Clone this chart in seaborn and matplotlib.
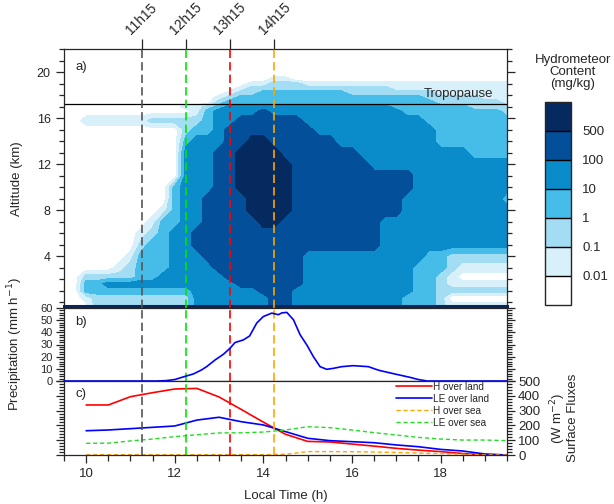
import numpy as np
import matplotlib
matplotlib.use("Agg")
import matplotlib.pyplot as plt
from matplotlib.ticker import MultipleLocator
import seaborn as sns

sns.set_style("ticks")
plt.rcParams['font.family'] = ['Liberation Sans', 'DejaVu Sans']

# --- data ---
event_times = [11.25, 12.25, 13.25, 14.25]
event_labels = ["11h15", "12h15", "13h15", "14h15"]
event_colors = ["#555555", "#00e600", "#ff0000", "#ffa500"]

tropopause_km = 17.28

# hydrometeor content class per grid cell (rows = altitudes, bottom to top; cols = times)
# 0: <0.01  1: 0.01-0.1  2: 0.1-1  3: 1-10  4: 10-100  5: 100-500  6: >500 mg/kg
hm_time = np.arange(9.5, 19.51, 0.25)
hm_alt = [-0.5, 0.4, 1.0, 1.6, 2.2, 3, 4, 5, 6, 7, 8, 9, 10, 11, 12, 13, 14, 15,
          15.8, 16.6, 17.0, 17.4, 17.8, 18.2, 18.6, 19.0, 19.4, 19.8, 20.5, 22]
hm_rows = [
    "000" "222222222" "4444444" "55" "4444444444" "333" "2" "111111",
    "00" "1" "222222222" "4444444" "55" "4444444444" "333" "2" "000000",
    "00" "3333333333" "444444" "555" "44444444444" "33" "2222222",
    "00" "33" "444444444444" "555555" "4444444444" "33" "2" "111111",
    "00" "22222" "33" "444444" "5555555" "4444444444" "33" "2" "1" "00000",
    "00000" "1" "2" "333" "4444" "55555555" "4444444444" "333" "2" "11111",
    "000000" "1" "333" "444" "555555555" "44444444444" "33" "222222",
    "0000000" "2" "33" "44" "55555555555555555" "444444444444",
    "0000000" "1" "2" "3" "44" "55555555555555555" "444444444444",
    "00000000" "1" "33" "44" "55555" "66" "555555555" "444444444444",
    "000000000" "1" "3" "44" "5555" "6666" "5555555555" "4444444444",
    "0000000000" "3" "44" "5555" "6666" "5555555555" "444444444" "3",
    "0000000000" "3" "444" "55" "66666" "55555555555" "444444444",
    "00000000000" "444" "55" "66666" "55555555555" "444444444",
    "00000000000" "444" "55" "66666" "5555555" "4444444444444",
    "00000000000" "444" "55" "6666" "5555555" "4444444444" "3333",
    "00000000000" "3" "444" "55" "66" "555555" "444444444" "3333333",
    "00000000000" "2" "33" "4" "55555555" "44444444444" "3333333",
    "00" "111111" "22222" "3" "44" "555555" "44444444444" "33333333",
    "000000000000" "1" "3" "4444" "5" "444444444444" "333333333" "2",
    "00000000000" "11" "2" "3" "444444444444444" "3333333" "2222",
    "00000000000000" "2" "3333333333333333333" "222222" "1",
    "00000000000000" "1" "2" "33333333333333333" "22222" "111",
    "000000000000000" "1" "22" "33333333" "22222222" "1111111",
    "0000000000000000" "1" "2222222222222" "11111111111",
    "00000000000000000" "11" "222" "1111111111111111111",
    "0000000000000000000" "11" "00000000000000000000",
    "0" * 41,
    "0" * 41,
    "0" * 41,
]
hm_bounds = ["0.01", "0.1", "1", "10", "100", "500"]
hm_colors = ["#ffffff", "#d8f0fa", "#a2ddf4", "#45bde8", "#0a8ccb", "#044f9a", "#052a60"]

precip_time = [9.5, 11.6, 11.8, 12.0, 12.25, 12.42, 12.6, 12.72, 12.91, 13.1, 13.25, 13.36,
               13.55, 13.69, 13.85, 14.0, 14.19, 14.34, 14.42, 14.53, 14.68, 14.83, 14.98,
               15.13, 15.28, 15.43, 15.58, 15.77, 16.03, 16.37, 16.55, 16.64, 16.94, 17.31,
               17.5, 17.7, 19.5]
precip_rate = [0, 0, 0.3, 1.2, 4.0, 5.8, 9.0, 11.8, 17.3, 22.0, 27.0, 31.6,
               33.8, 37.0, 47.6, 53.0, 55.8, 54.5, 56.0, 56.4, 50.3, 38.0, 29.7,
               20.0, 11.8, 9.6, 10.4, 11.8, 12.6, 11.8, 9.5, 8.5, 6.0, 3.0,
               1.2, 0, 0]

flux_time = [10.0, 10.5, 11.0, 11.5, 12.0, 12.5, 13.0, 13.5, 14.0, 14.5,
             15.0, 15.5, 16.0, 16.5, 17.0, 17.5, 18.0, 18.5, 19.0, 19.5]
h_land = [338, 338, 394, 421, 446, 450, 392, 308, 222, 140, 92, 88, 74, 60, 45, 33, 23, 10, 1, 0]
le_land = [164, 169, 178, 187, 196, 236, 255, 225, 203, 158, 113, 97, 90, 83, 68, 56, 38, 27, 7, 0]
h_sea = [2, 2, 2, 2, 2, 2, 2, 2, 2, 5, 23, 23, 22, 20, 17, 13, 10, 5, 1, 0]
le_sea = [79, 80, 95, 108, 124, 137, 149, 150, 155, 169, 191, 185, 169, 151, 135, 119, 108, 101, 101, 97]

# --- figure ---
W, H = 614, 504
fig = plt.figure(figsize=(W / 100, H / 100), dpi=100)
ax_a = fig.add_axes([64 / W, 1 - 308 / H, 443 / W, (308 - 49.3) / H])
ax_b = fig.add_axes([64 / W, 1 - 381 / H, 443 / W, (381 - 308) / H])
ax_c = fig.add_axes([64 / W, 1 - 455 / H, 443 / W, (455 - 381) / H])
cax = fig.add_axes([545 / W, 1 - 305 / H, 26 / W, (305 - 101.7) / H])

# a) hydrometeor content
grid = np.array([[int(ch) for ch in row] for row in hm_rows], dtype=float)
cs = ax_a.contourf(hm_time, hm_alt, grid, levels=np.arange(-0.5, 7, 1), colors=hm_colors)
ax_a.axhline(tropopause_km, color="k", lw=0.9)
ax_a.text(19.18, tropopause_km + 0.35, "Tropopause", ha="right", va="bottom", fontsize=9.5)
ax_a.text(0.025, 0.93, "a)", transform=ax_a.transAxes, fontsize=9.5, va="center")
ax_a.set_xlim(9.5, 19.5)
ax_a.set_ylim(-0.5, 22)
ax_a.xaxis.tick_top()
ax_a.set_xticks(event_times)
ax_a.set_xticklabels(event_labels)
ax_a.tick_params(axis="x", length=7, width=0.9, pad=2, labelsize=10, labelrotation=45)
ax_a.set_yticks([4, 8, 12, 16, 20])
ax_a.yaxis.set_minor_locator(MultipleLocator(1))
ax_a.tick_params(axis="y", which="both", left=True, right=True, labelsize=9, width=0.9)
ax_a.tick_params(axis="y", which="major", length=6)
ax_a.tick_params(axis="y", which="minor", length=3.5)
ax_a.set_ylabel("Altitude (km)", fontsize=9.5)
ax_a.yaxis.set_label_coords(-0.092, 0.5)
ax_a.spines["bottom"].set_position(("outward", -1.2))
ax_a.spines["bottom"].set_linewidth(2.2)
ax_a.spines["bottom"].set_color("#0a2557")

cb = fig.colorbar(cs, cax=cax, ticks=np.arange(0.5, 6, 1), drawedges=True)
cb.set_ticklabels(hm_bounds)
cb.outline.set_linewidth(1.0)
cb.dividers.set_color("k")
cb.dividers.set_linewidth(1.0)
cax.tick_params(length=0, labelsize=9.5, pad=8)
fig.text(573 / W, 1 - 72 / H, "Hydrometeor\nContent\n(mg/kg)", ha="center", va="center",
         fontsize=9.5, linespacing=1.0)

# b) precipitation
sns.lineplot(x=precip_time, y=precip_rate, ax=ax_b, color="#0000ff", lw=1.2,
             clip_on=False, zorder=5)
ax_b.text(0.025, 0.81, "b)", transform=ax_b.transAxes, fontsize=9.5, va="center")
ax_b.set_xlim(9.5, 19.5)
ax_b.set_ylim(0, 60)
ax_b.set_yticks(range(0, 61, 10))
ax_b.yaxis.set_minor_locator(MultipleLocator(2))
ax_b.tick_params(axis="x", which="both", bottom=False, top=False, labelbottom=False)
ax_b.tick_params(axis="y", which="both", left=True, right=True, labelsize=8, width=0.9, pad=2)
ax_b.tick_params(axis="y", which="major", length=6)
ax_b.tick_params(axis="y", which="minor", length=3.5)
ax_b.set_ylabel("Precipitation (mm h$^{-1}$)", fontsize=9.5)
ax_b.yaxis.set_label_coords(-0.088, 0.5)

# c) surface fluxes
sns.lineplot(x=flux_time, y=h_land, ax=ax_c, color="#ff0000", lw=1.2, label="H over land")
sns.lineplot(x=flux_time, y=le_land, ax=ax_c, color="#0000ff", lw=1.2, label="LE over land")
sns.lineplot(x=flux_time, y=h_sea, ax=ax_c, color="#ffa500", lw=1.0, ls=(0, (3, 2)),
             label="H over sea")
sns.lineplot(x=flux_time, y=le_sea, ax=ax_c, color="#22dd22", lw=1.0, ls=(0, (3, 2)),
             label="LE over sea")
ax_c.legend(loc="upper left", bbox_to_anchor=(0.749, 0.99), frameon=False, fontsize=7.2,
            handlelength=3.6, handletextpad=0.1, labelspacing=0.2, borderaxespad=0,
            borderpad=0)
ax_c.text(0.025, 0.825, "c)", transform=ax_c.transAxes, fontsize=9.5, va="center")
ax_c.set_xlim(9.5, 19.5)
ax_c.set_ylim(0, 500)
ax_c.xaxis.set_major_locator(MultipleLocator(2))
ax_c.xaxis.set_minor_locator(MultipleLocator(0.5))
ax_c.yaxis.set_major_locator(MultipleLocator(100))
ax_c.yaxis.set_minor_locator(MultipleLocator(20))
ax_c.tick_params(axis="x", which="both", top=False, labelsize=9.5, width=0.9)
ax_c.tick_params(axis="x", which="major", length=6)
ax_c.tick_params(axis="x", which="minor", length=4)
ax_c.tick_params(axis="y", which="both", left=True, right=True, labelleft=False,
                 labelright=True, labelsize=9.5, width=0.9, pad=2)
ax_c.tick_params(axis="y", which="major", length=6)
ax_c.tick_params(axis="y", which="minor", length=3.5)
ax_c.yaxis.set_label_position("right")
ax_c.set_ylabel("(W m$^{-2}$)\nSurface Fluxes", fontsize=9.5, linespacing=0.9)
ax_c.yaxis.set_label_coords(1.093, 0.5)
ax_c.set_xlabel("Local Time (h)", fontsize=9.5)
ax_c.xaxis.set_label_coords(0.5, -0.47)

# event lines through all panels
for ax in (ax_a, ax_b, ax_c):
    for t, col in zip(event_times, event_colors):
        ax.axvline(t, color=col, lw=1.2, ls=(0, (5, 2.5)), zorder=3)
    for s in ax.spines.values():
        if s is not ax_a.spines["bottom"]:
            s.set_linewidth(0.9)

fig.savefig("out.png", dpi=100)
